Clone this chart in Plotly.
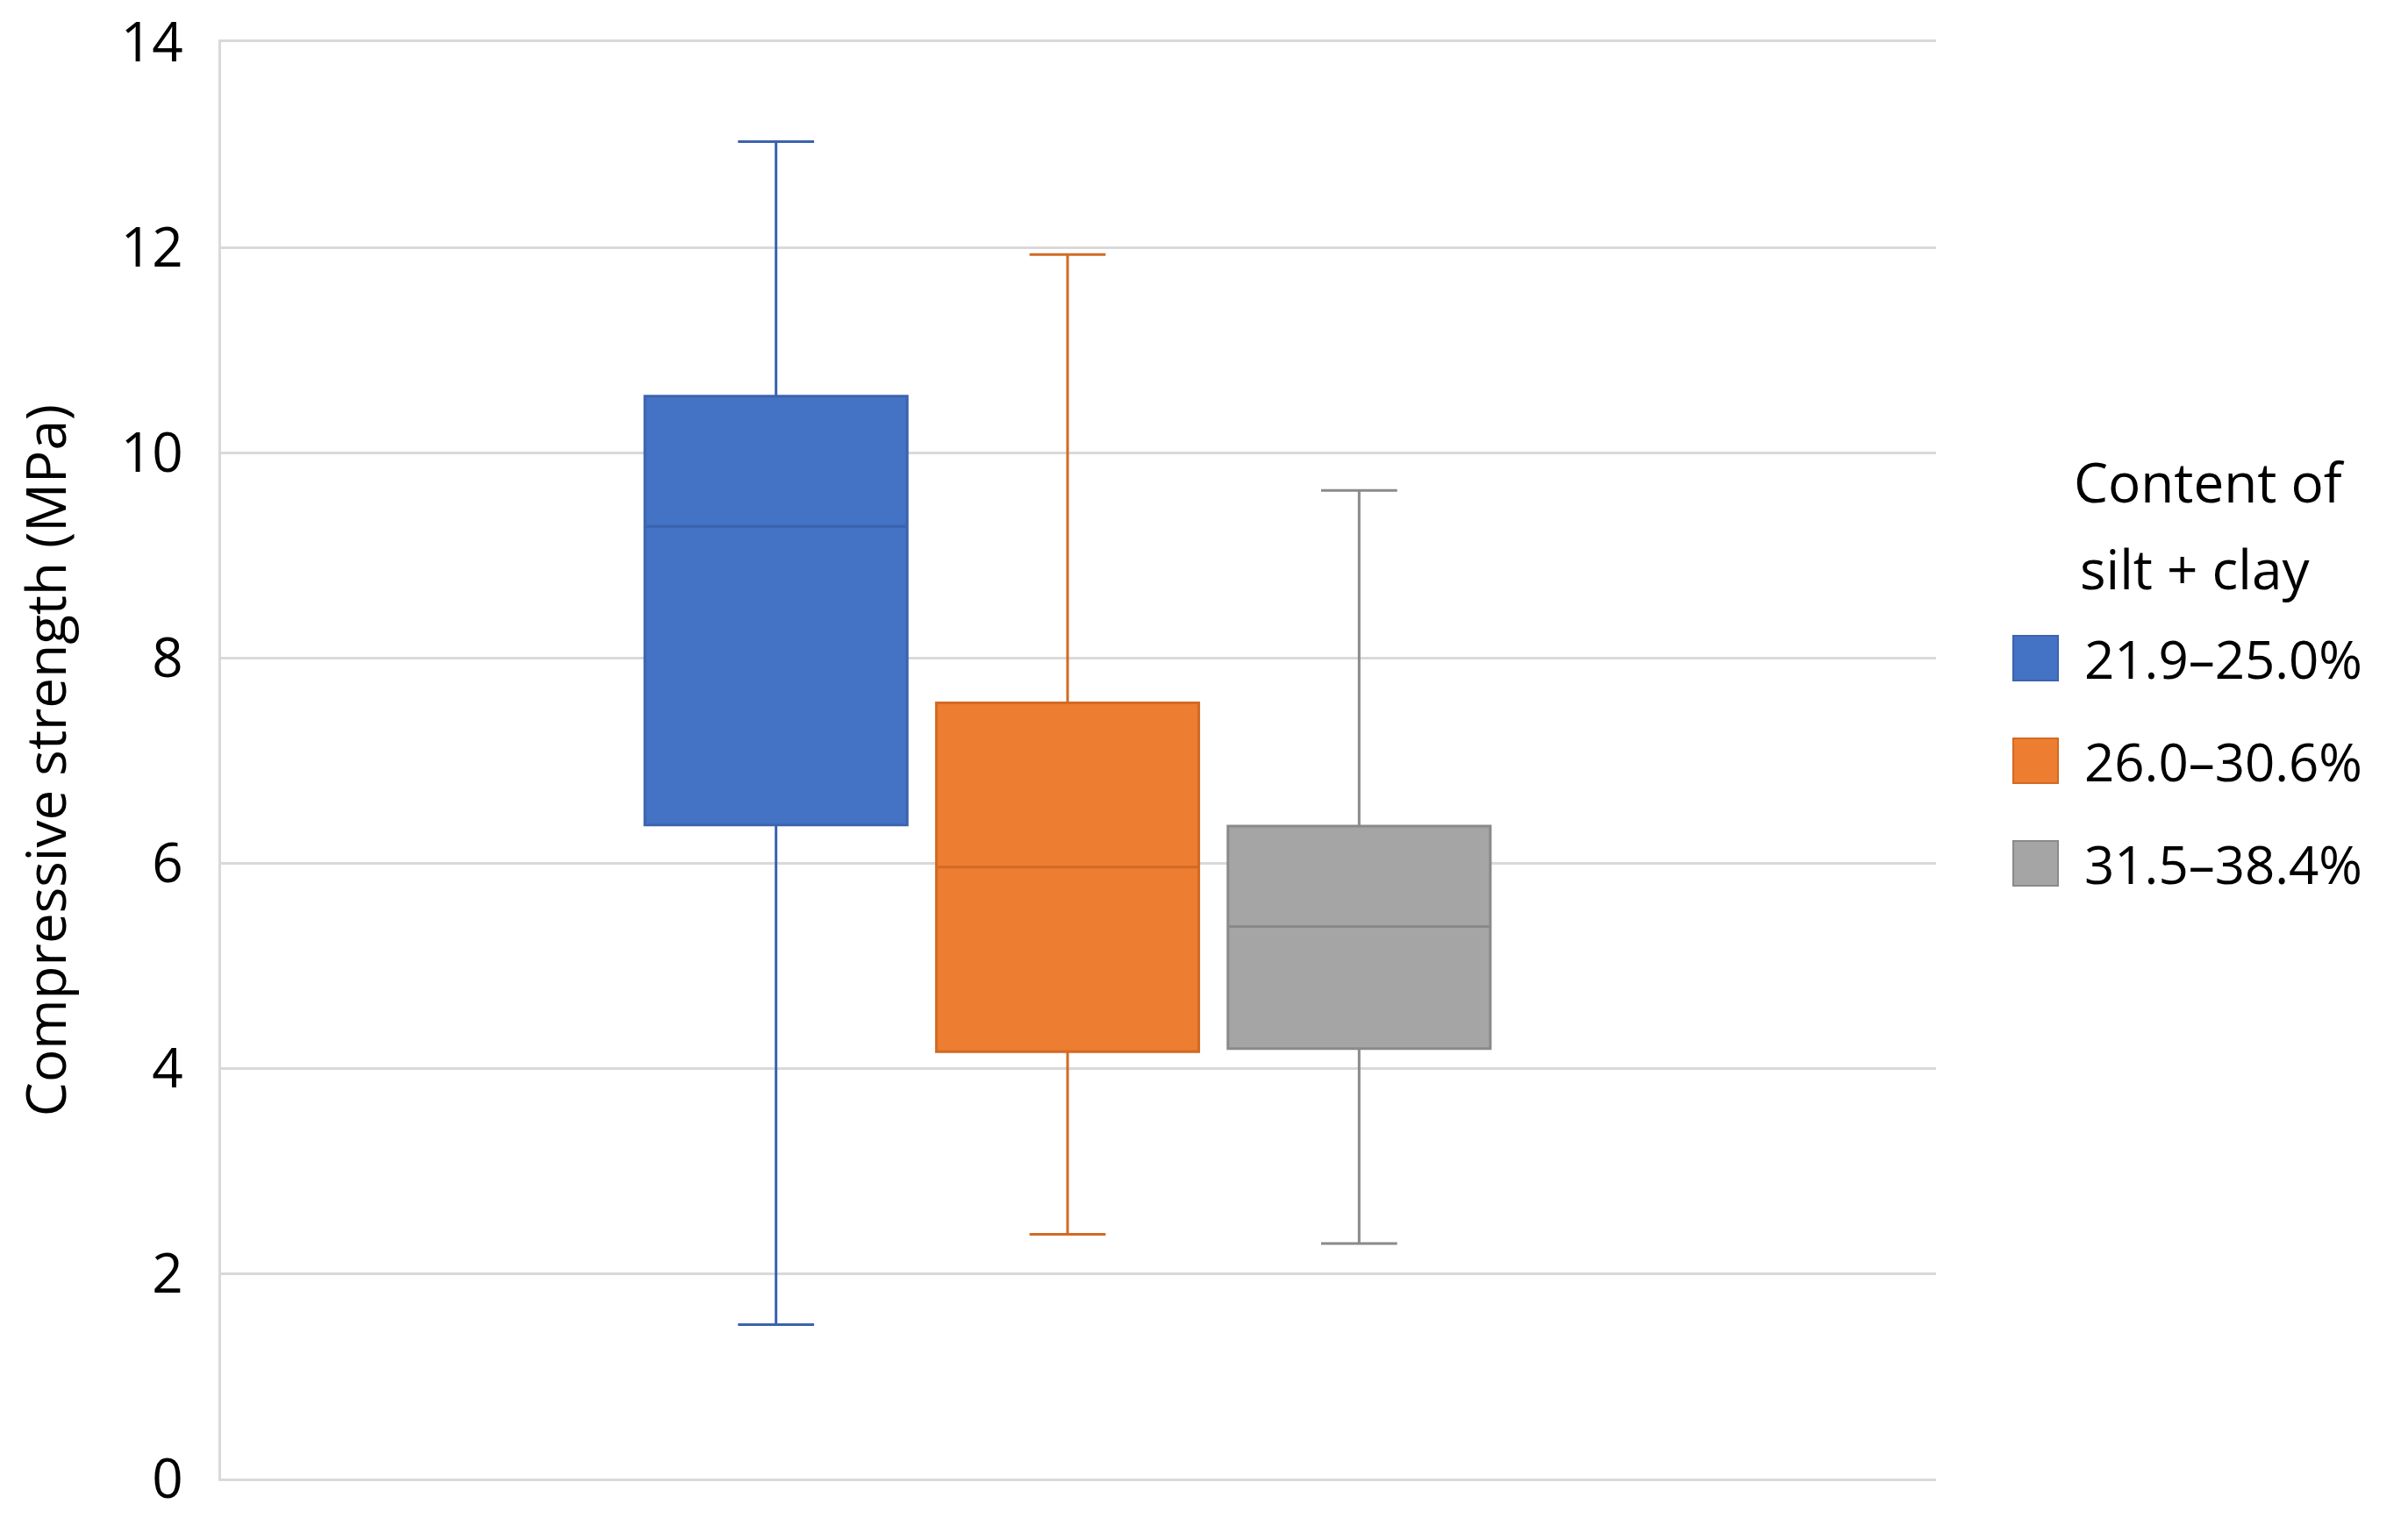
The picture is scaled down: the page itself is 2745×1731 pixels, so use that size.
import plotly.graph_objects as go

# box statistics (MPa)
groups = ["21.9–25.0%", "26.0–30.6%", "31.5–38.4%"]
category = ["silt + clay"]
lower_whisker = [1.50, 2.38, 2.29]
q1 = [6.37, 4.16, 4.19]
median = [9.28, 5.96, 5.38]
q3 = [10.55, 7.56, 6.36]
upper_whisker = [13.03, 11.93, 9.63]
y_ticks = [0, 2, 4, 6, 8, 10, 12, 14]

fill_colors = ["#4472C4", "#ED7D31", "#A5A5A5"]
line_colors = ["#3B63AE", "#D26A24", "#8A8A8A"]

font_name = "Open Sans"
grid_color = "#D9D9D9"

fig = go.Figure()
for i, name in enumerate(groups):
    fig.add_trace(go.Box(
        x=category,
        q1=[q1[i]],
        median=[median[i]],
        q3=[q3[i]],
        lowerfence=[lower_whisker[i]],
        upperfence=[upper_whisker[i]],
        name=name,
        fillcolor=fill_colors[i],
        line=dict(color=line_colors[i], width=3),
        whiskerwidth=0.29,
        boxpoints=False,
        showlegend=False,
    ))

# legend drawn by hand so the keys can be as big as the reference
shapes = []
annotations = []
y0 = 0.5711
step = 0.07143
half = 0.01557
for i, name in enumerate(groups):
    yc = y0 - i * step
    shapes.append(dict(type="rect", xref="paper", yref="paper",
                       x0=1.0450, x1=1.0711, y0=yc - half, y1=yc + half,
                       fillcolor=fill_colors[i],
                       line=dict(color=line_colors[i], width=2)))
    annotations.append(dict(text=name, xref="paper", yref="paper",
                            x=1.0854, y=yc, xanchor="left", yanchor="middle",
                            showarrow=False,
                            font=dict(family=font_name, size=60, color="#000")))

annotations.append(dict(text="Content of", xref="paper", yref="paper",
                        x=1.1593, y=0.6941, xanchor="center", yanchor="middle",
                        showarrow=False,
                        font=dict(family=font_name, size=62, color="#000")))
annotations.append(dict(text="silt + clay", xref="paper", yref="paper",
                        x=1.1509, y=0.6337, xanchor="center", yanchor="middle",
                        showarrow=False,
                        font=dict(family=font_name, size=62, color="#000")))

fig.update_layout(
    width=2745, height=1731,
    margin=dict(l=252, r=538, t=48, b=45),
    paper_bgcolor="white", plot_bgcolor="white",
    boxmode="group", boxgap=0.49, boxgroupgap=0.1,
    font=dict(family=font_name, size=60, color="#000"),
    shapes=shapes,
    annotations=annotations,
    xaxis=dict(range=[-0.4936, 0.5064], showticklabels=False, showgrid=False,
               zeroline=False, showline=True, mirror=True,
               linecolor=grid_color, linewidth=3, ticks=""),
    yaxis=dict(range=[0, 14], tickvals=y_ticks, ticks="",
               showgrid=True, gridcolor=grid_color, gridwidth=3,
               zeroline=False, showline=True, linecolor=grid_color, linewidth=3,
               ticklabelstandoff=28, ticklabeloverflow="allow", automargin=False,
               tickfont=dict(family=font_name, size=62, color="#000"),
               title=dict(text="Compressive strength (MPa)", standoff=42,
                          font=dict(family=font_name, size=62, color="#000"))),
)

# drop the browser's default body margin so the figure fills the window
fig.write_html("out.html", config={"displayModeBar": False},
               post_script="document.body.style.margin='0';")
